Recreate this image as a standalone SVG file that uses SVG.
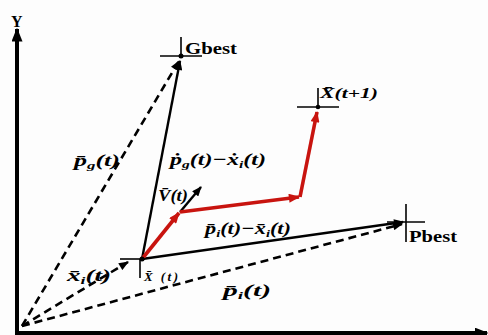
<svg xmlns="http://www.w3.org/2000/svg" width="488" height="335" viewBox="0 0 488 335">
<style>
.bg{fill:#fdfdfd}
.cross{stroke:#000;stroke-width:1.6;fill:none}
.name{font-family:"Liberation Serif","DejaVu Serif",serif;font-weight:bold;font-size:17px;fill:#000}
.math{font-family:"Liberation Serif","DejaVu Serif",serif;font-style:italic;font-weight:bold;font-size:17px;fill:#000}
.sub{font-size:11px}
.dash{stroke:#000;stroke-width:2.6;stroke-dasharray:8 5;fill:none}
.solid{stroke:#000;stroke-width:2.4;fill:none}
.red{stroke:#c8140f;stroke-width:3.6;fill:none;stroke-linejoin:round}
.axis{stroke:#000;stroke-width:4;fill:none}
</style>
<defs>
<marker id="ab" viewBox="0 0 10 8" refX="9" refY="4" markerWidth="11" markerHeight="8" markerUnits="userSpaceOnUse" orient="auto"><path d="M0,0 L10,4 L0,8 Z" fill="#000"/></marker>
<marker id="ar" viewBox="0 0 10 8" refX="9" refY="4" markerWidth="12" markerHeight="9" markerUnits="userSpaceOnUse" orient="auto"><path d="M0,0 L10,4 L0,8 Z" fill="#c8140f"/></marker>
<marker id="ax" viewBox="0 0 10 8" refX="9" refY="4" markerWidth="14" markerHeight="11" markerUnits="userSpaceOnUse" orient="auto"><path d="M0,0 L10,4 L0,8 Z" fill="#000"/></marker>
</defs>
<rect class="bg" x="0" y="0" width="488" height="335"/>
<g id="axes">
<line class="axis" x1="17" y1="335" x2="17" y2="29" marker-end="url(#ax)"/>
<line class="axis" x1="15" y1="333" x2="487" y2="333" marker-end="url(#ax)"/>
<text class="name" x="11" y="27" style="font-size:16px">Y</text>
</g>
<g id="connectors">
<line class="dash" x1="22" y1="326" x2="179" y2="61" marker-end="url(#ab)"/>
<line class="dash" x1="22" y1="326" x2="128" y2="262" marker-end="url(#ab)"/>
<line class="dash" x1="22" y1="326" x2="402" y2="224" marker-end="url(#ab)"/>
<line class="solid" x1="142" y1="259" x2="180" y2="61" marker-end="url(#ab)"/>
<line class="solid" x1="142" y1="259" x2="403" y2="222" marker-end="url(#ab)"/>
<line class="solid" x1="180" y1="212" x2="201" y2="187" marker-end="url(#ab)"/>
<line class="red" x1="142" y1="259" x2="179" y2="213" marker-end="url(#ar)"/>
<line class="red" x1="180" y1="212" x2="299" y2="197" marker-end="url(#ar)"/>
<line class="red" x1="300" y1="197" x2="317" y2="112" marker-end="url(#ar)"/>
</g>
<g id="gbest">
<line class="cross" x1="160" y1="56" x2="202" y2="56"/>
<line class="cross" x1="181" y1="37" x2="181" y2="58"/>
<circle cx="181" cy="56" r="2.5" fill="#000"/>
<text class="name" x="185" y="54" textLength="52" lengthAdjust="spacingAndGlyphs">Gbest</text>
</g>
<g id="xt1">
<line class="cross" x1="297" y1="107" x2="339" y2="107"/>
<line class="cross" x1="318" y1="88" x2="318" y2="108"/>
<circle cx="318" cy="107" r="2.3" fill="#000"/>
<text class="math" x="320" y="98" style="font-size:15px" textLength="58" lengthAdjust="spacingAndGlyphs">X̄(t+1)</text>
</g>
<g id="pbest">
<line class="cross" x1="387" y1="222" x2="425" y2="222"/>
<line class="cross" x1="406" y1="204" x2="406" y2="242"/>
<text class="name" x="409" y="242" textLength="48" lengthAdjust="spacingAndGlyphs">Pbest</text>
</g>
<g id="xt">
<line class="cross" x1="120" y1="259" x2="145" y2="259"/>
<line class="cross" x1="140" y1="259" x2="140" y2="278"/>
<circle cx="142" cy="259" r="2.5" fill="#000"/>
<text class="math" x="144" y="281" style="font-size:13px" textLength="34" lengthAdjust="spacing">X̄ (t)</text>
</g>
<g id="labels">
<text class="math" x="74" y="166" textLength="46" lengthAdjust="spacingAndGlyphs">p̄<tspan class="sub" dy="3">g</tspan><tspan dy="-3">(t)</tspan></text>
<text class="math" x="170" y="165" textLength="96" lengthAdjust="spacingAndGlyphs">ṗ<tspan class="sub" dy="3">g</tspan><tspan dy="-3">(t)−ẋ</tspan><tspan class="sub" dy="3">i</tspan><tspan dy="-3">(t)</tspan></text>
<text class="math" x="158" y="201" textLength="30" lengthAdjust="spacingAndGlyphs">V̄(t)</text>
<text class="math" x="205" y="234" textLength="86" lengthAdjust="spacingAndGlyphs">p̄<tspan class="sub" dy="3">i</tspan><tspan dy="-3">(t)−x̄</tspan><tspan class="sub" dy="3">i</tspan><tspan dy="-3">(t)</tspan></text>
<text class="math" x="67" y="281" textLength="44" lengthAdjust="spacingAndGlyphs">x̄<tspan class="sub" dy="3">i</tspan><tspan dy="-3">(t)</tspan></text>
<text class="math" x="223" y="296" textLength="48" lengthAdjust="spacingAndGlyphs">p̄<tspan class="sub" dy="3">i</tspan><tspan dy="-3">(t)</tspan></text>
</g>
</svg>
